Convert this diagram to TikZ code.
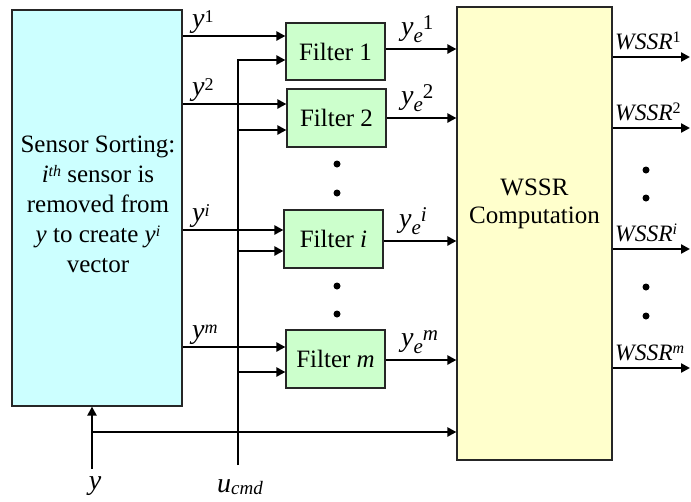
\documentclass[tikz,border=0pt]{standalone}
\usepackage{fontspec}
\setmainfont{Liberation Serif}
\usetikzlibrary{arrows.meta}
\definecolor{sensorc}{RGB}{204,255,255}
\definecolor{filtc}{RGB}{204,255,204}
\definecolor{wssrc}{RGB}{255,255,204}
\newcommand{\bigf}{\fontsize{25}{30}\selectfont}
\newcommand{\labf}{\fontsize{28}{30}\selectfont}
\newcommand{\midf}{\fontsize{23.5}{28}\selectfont}
\newcommand{\supr}[2]{\raisebox{#1}{\fontsize{16}{16}\selectfont #2}}
\newcommand{\lsup}[2]{\raisebox{#1}{\fontsize{18}{18}\selectfont #2}}
\newcommand{\yel}[1]{\textit{y}\raisebox{-7pt}{\fontsize{21}{21}\selectfont\textit{e}}\raisebox{6pt}{\fontsize{21}{21}\selectfont #1}}
\begin{document}
\begin{tikzpicture}[x=1pt,y=-1pt,
  box/.style={draw=black!85, line width=1.2pt, inner sep=0pt, font=\bigf},
  conn/.style={line width=2.4pt},
  arr/.style={conn, -{Triangle[length=9pt,width=9pt]}},
  txt/.style={font=\bigf, inner sep=0pt},
  lab/.style={font=\labf, inner sep=0pt},
  wtx/.style={font=\midf, inner sep=0pt, anchor=base west},
  dot/.style={circle, fill=black, inner sep=0pt, minimum size=7pt}]
\useasboundingbox (0,0) rectangle (691,501);
% boxes
\node[box, fill=sensorc, minimum width=170pt, minimum height=396pt] (sensor) at (97,208) {};
\node[txt, align=center] (stxt) at (98,204) {Sensor Sorting:\\\textit{i}\supr{6pt}{\textit{th}} sensor is\\removed from\\\textit{y} to create \textit{y}\supr{6pt}{\textit{i}}\\vector};
\node[box, fill=filtc, minimum width=99pt, minimum height=57pt] (f1) at (335.5,51.5) {Filter 1};
\node[box, fill=filtc, minimum width=99pt, minimum height=58pt] (f2) at (336.5,118) {Filter 2};
\node[box, fill=filtc, minimum width=99pt, minimum height=58pt] (fi) at (333.5,239) {Filter \textit{i}};
\node[box, fill=filtc, minimum width=99pt, minimum height=58pt] (fm) at (335.5,359) {Filter \textit{m}};
\node[box, fill=wssrc, minimum width=155pt, minimum height=453pt] (wssr) at (534.5,233.5) {};
\node[txt, align=center, font=\fontsize{25}{28}\selectfont] (wtxt) at (534.5,204) {WSSR\\Computation};
% levels
\coordinate (r1) at (0,36);
\coordinate (r2) at (0,104);
\coordinate (ri) at (0,230);
\coordinate (rm) at (0,347);
\coordinate (u1) at (238,60);
\coordinate (u2) at (238,130);
\coordinate (ui) at (238,251);
\coordinate (um) at (238,372);
\coordinate (ubot) at (238,465);
\coordinate (ybot) at (92,469);
\coordinate (yj) at (92,432);
\coordinate (o1) at (0,49);
\coordinate (o2) at (0,118);
\coordinate (oi) at (0,241);
\coordinate (om) at (0,360);
\coordinate (w1) at (690,57);
\coordinate (w2) at (690,128);
\coordinate (wi) at (690,249);
\coordinate (wm) at (690,368);
% sensor outputs
\draw[arr] (sensor.east |- r1) -- (f1.west |- r1);
\draw[arr] (sensor.east |- r2) -- (f2.west |- r2);
\draw[arr] (sensor.east |- ri) -- (fi.west |- ri);
\draw[arr] (sensor.east |- rm) -- (fm.west |- rm);
% u_cmd
\draw[arr] (ubot) -- (u1) -- (u1 -| f1.west);
\draw[arr] (u2) -- (u2 -| f2.west);
\draw[arr] (ui) -- (ui -| fi.west);
\draw[arr] (um) -- (um -| fm.west);
% y input
\draw[arr] (ybot) -- (ybot |- sensor.south);
\draw[arr] (yj) -- (yj -| wssr.west);
% filter outputs
\draw[arr] (f1.east |- o1) -- (wssr.west |- o1);
\draw[arr] (f2.east |- o2) -- (wssr.west |- o2);
\draw[arr] (fi.east |- oi) -- (wssr.west |- oi);
\draw[arr] (fm.east |- om) -- (wssr.west |- om);
% wssr outputs
\draw[arr] (wssr.east |- w1) -- (w1);
\draw[arr] (wssr.east |- w2) -- (w2);
\draw[arr] (wssr.east |- wi) -- (wi);
\draw[arr] (wssr.east |- wm) -- (wm);
% labels
\node[lab, anchor=base west] (ly1) at (192,27) {\textit{y}\lsup{5pt}{1}};
\node[lab, anchor=base west] (ly2) at (192,95) {\textit{y}\lsup{5pt}{2}};
\node[lab, anchor=base west] (lyi) at (192,221) {\textit{y}\lsup{5pt}{\textit{i}}};
\node[lab, anchor=base west] (lym) at (192,338) {\textit{y}\lsup{5pt}{\textit{m}}};
\node[lab, anchor=base west] (le1) at (401,35) {\yel{1}};
\node[lab, anchor=base west] (le2) at (401,104) {\yel{2}};
\node[lab, anchor=base west] (lei) at (399,227) {\yel{\textit{i}}};
\node[lab, anchor=base west] (lem) at (401,346) {\yel{\textit{m}}};
\node[wtx] (lw1) at (615,49) {\textit{WSSR}\supr{7pt}{1}};
\node[wtx] (lw2) at (615,120) {\textit{WSSR}\supr{7pt}{2}};
\node[wtx] (lwi) at (615,241) {\textit{WSSR}\supr{7pt}{\textit{i}}};
\node[wtx] (lwm) at (615,360) {\textit{WSSR}\supr{7pt}{\textit{m}}};
\node[lab, anchor=base] (ly) at (95,489) {\textit{y}};
\node[lab, anchor=base] (lu) at (240,492) {\textit{u}\raisebox{-2pt}{\fontsize{19}{19}\selectfont\textit{cmd}}};
% dots
\node[dot] (d1) at (337,164) {};
\node[dot] (d2) at (337,193) {};
\node[dot] (d3) at (337,286) {};
\node[dot] (d4) at (337,314) {};
\node[dot] (d5) at (646,170) {};
\node[dot] (d6) at (646,198) {};
\node[dot] (d7) at (646,287) {};
\node[dot] (d8) at (646,316) {};
\end{tikzpicture}
\end{document}
